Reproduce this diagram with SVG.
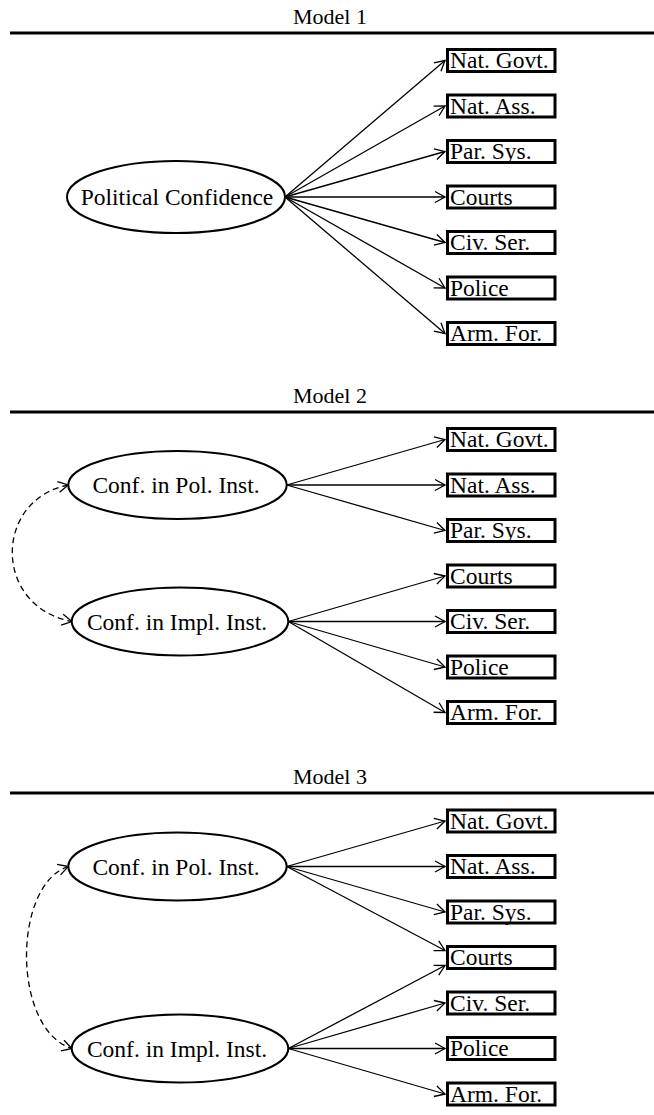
<svg xmlns="http://www.w3.org/2000/svg" width="654" height="1115" viewBox="0 0 654 1115">
<style>
text{font-family:"Liberation Serif","Times New Roman",serif;font-size:23.5px;fill:#000}
.t{text-anchor:middle}
.h{font-size:22px}
.rule{stroke:#000;stroke-width:3}
.box{fill:#fff;stroke:#000;stroke-width:3}
.lv{fill:#fff;stroke:#000;stroke-width:2}
.a{stroke:#000;stroke-width:1.3;fill:none;marker-end:url(#ah)}
.d{stroke:#000;stroke-width:1.3;fill:none;stroke-dasharray:6 4;marker-start:url(#ahs);marker-end:url(#ah)}
</style>
<defs>
<marker id="ah" markerUnits="userSpaceOnUse" viewBox="-12 -7 14 14" refX="0" refY="0" markerWidth="14" markerHeight="14" orient="auto">
<path d="M-10,-5.5 L0,0 L-10,5.5" fill="none" stroke="#000" stroke-width="1.3"/>
</marker>
<marker id="ahs" markerUnits="userSpaceOnUse" viewBox="-2 -7 14 14" refX="0" refY="0" markerWidth="14" markerHeight="14" orient="auto">
<path d="M10,-5.5 L0,0 L10,5.5" fill="none" stroke="#000" stroke-width="1.3"/>
</marker>
</defs>

<!-- Model 1 -->
<g id="title1"><text class="t h" x="330" y="24">Model 1</text><line class="rule" x1="10" y1="33" x2="654" y2="33"/></g>
<g id="connectors1">
<line class="a" x1="285" y1="197" x2="445" y2="60.5"/>
<line class="a" x1="285" y1="197" x2="445" y2="106"/>
<line class="a" x1="285" y1="197" x2="445" y2="151.5"/>
<line class="a" x1="285" y1="197" x2="445" y2="197"/>
<line class="a" x1="285" y1="197" x2="445" y2="242.5"/>
<line class="a" x1="285" y1="197" x2="445" y2="288"/>
<line class="a" x1="285" y1="197" x2="445" y2="333.5"/>
</g>
<g id="m1-pc"><ellipse class="lv" cx="176" cy="197" rx="109" ry="36"/><text class="t" x="177" y="205">Political Confidence</text></g>
<g id="m1-natgovt"><rect class="box" x="447.5" y="49.5" width="107.5" height="22"/><text x="450" y="68">Nat. Govt.</text></g>
<g id="m1-natass"><rect class="box" x="447.5" y="95" width="107.5" height="22"/><text x="450" y="113.5">Nat. Ass.</text></g>
<g id="m1-parsys"><rect class="box" x="447.5" y="140.5" width="107.5" height="22"/><text x="450" y="159">Par. Sys.</text></g>
<g id="m1-courts"><rect class="box" x="447.5" y="186" width="107.5" height="22"/><text x="450" y="204.5">Courts</text></g>
<g id="m1-civser"><rect class="box" x="447.5" y="231.5" width="107.5" height="22"/><text x="450" y="250">Civ. Ser.</text></g>
<g id="m1-police"><rect class="box" x="447.5" y="277" width="107.5" height="22"/><text x="450" y="295.5">Police</text></g>
<g id="m1-armfor"><rect class="box" x="447.5" y="322.5" width="107.5" height="22"/><text x="450" y="341">Arm. For.</text></g>

<!-- Model 2 -->
<g id="title2"><text class="t h" x="330" y="403">Model 2</text><line class="rule" x1="10" y1="412" x2="654" y2="412"/></g>
<g id="connectors2">
<line class="a" x1="286.7" y1="485" x2="445" y2="439.5"/>
<line class="a" x1="286.7" y1="485" x2="445" y2="485"/>
<line class="a" x1="286.7" y1="485" x2="445" y2="530.5"/>
<line class="a" x1="288.3" y1="621.5" x2="445" y2="576"/>
<line class="a" x1="288.3" y1="621.5" x2="445" y2="621.5"/>
<line class="a" x1="288.3" y1="621.5" x2="445" y2="667"/>
<line class="a" x1="288.3" y1="621.5" x2="445" y2="712.5"/>
<path class="d" d="M68.3,485 C-7,500 -7,607 72,621.5"/>
</g>
<g id="m2-pol"><ellipse class="lv" cx="177.5" cy="485" rx="109.2" ry="34"/><text class="t" x="176" y="493">Conf. in Pol. Inst.</text></g>
<g id="m2-impl"><ellipse class="lv" cx="180" cy="621.5" rx="108.3" ry="34"/><text class="t" x="177" y="629.5">Conf. in Impl. Inst.</text></g>
<g id="m2-natgovt"><rect class="box" x="447.5" y="428.5" width="107.5" height="22"/><text x="450" y="447">Nat. Govt.</text></g>
<g id="m2-natass"><rect class="box" x="447.5" y="474" width="107.5" height="22"/><text x="450" y="492.5">Nat. Ass.</text></g>
<g id="m2-parsys"><rect class="box" x="447.5" y="519.5" width="107.5" height="22"/><text x="450" y="538">Par. Sys.</text></g>
<g id="m2-courts"><rect class="box" x="447.5" y="565" width="107.5" height="22"/><text x="450" y="583.5">Courts</text></g>
<g id="m2-civser"><rect class="box" x="447.5" y="610.5" width="107.5" height="22"/><text x="450" y="629">Civ. Ser.</text></g>
<g id="m2-police"><rect class="box" x="447.5" y="656" width="107.5" height="22"/><text x="450" y="674.5">Police</text></g>
<g id="m2-armfor"><rect class="box" x="447.5" y="701.5" width="107.5" height="22"/><text x="450" y="720">Arm. For.</text></g>

<!-- Model 3 -->
<g id="title3"><text class="t h" x="330" y="784">Model 3</text><line class="rule" x1="10" y1="793" x2="654" y2="793"/></g>
<g id="connectors3">
<line class="a" x1="286.7" y1="866.5" x2="445" y2="821"/>
<line class="a" x1="286.7" y1="866.5" x2="445" y2="866.5"/>
<line class="a" x1="286.7" y1="866.5" x2="445" y2="912"/>
<line class="a" x1="286.7" y1="866.5" x2="445" y2="950.5"/>
<line class="a" x1="288.3" y1="1048.5" x2="445" y2="965.5"/>
<line class="a" x1="288.3" y1="1048.5" x2="445" y2="1003"/>
<line class="a" x1="288.3" y1="1048.5" x2="445" y2="1048.5"/>
<line class="a" x1="288.3" y1="1048.5" x2="445" y2="1094"/>
<path class="d" d="M68.3,866.5 C12,885 12,1030 72,1048.5"/>
</g>
<g id="m3-pol"><ellipse class="lv" cx="177.5" cy="866.5" rx="109.2" ry="34"/><text class="t" x="176" y="874.5">Conf. in Pol. Inst.</text></g>
<g id="m3-impl"><ellipse class="lv" cx="180" cy="1048.5" rx="108.3" ry="34"/><text class="t" x="177" y="1056.5">Conf. in Impl. Inst.</text></g>
<g id="m3-natgovt"><rect class="box" x="447.5" y="810" width="107.5" height="22"/><text x="450" y="828.5">Nat. Govt.</text></g>
<g id="m3-natass"><rect class="box" x="447.5" y="855.5" width="107.5" height="22"/><text x="450" y="874">Nat. Ass.</text></g>
<g id="m3-parsys"><rect class="box" x="447.5" y="901" width="107.5" height="22"/><text x="450" y="919.5">Par. Sys.</text></g>
<g id="m3-courts"><rect class="box" x="447.5" y="946.5" width="107.5" height="22"/><text x="450" y="965">Courts</text></g>
<g id="m3-civser"><rect class="box" x="447.5" y="992" width="107.5" height="22"/><text x="450" y="1010.5">Civ. Ser.</text></g>
<g id="m3-police"><rect class="box" x="447.5" y="1037.5" width="107.5" height="22"/><text x="450" y="1056">Police</text></g>
<g id="m3-armfor"><rect class="box" x="447.5" y="1083" width="107.5" height="22"/><text x="450" y="1101.5">Arm. For.</text></g>
</svg>
